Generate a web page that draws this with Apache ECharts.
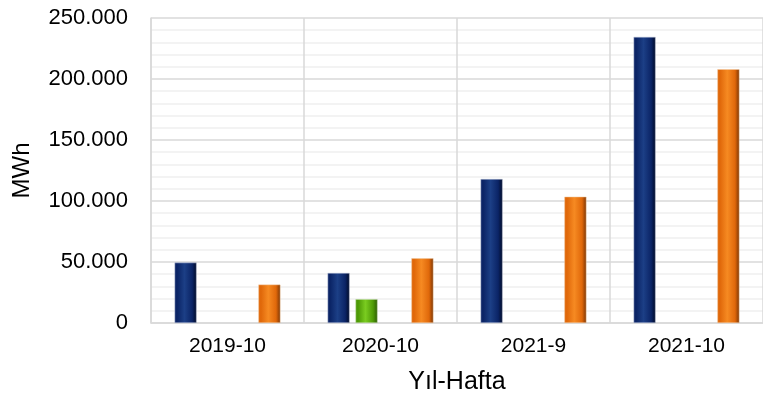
<!DOCTYPE html>
<html>
<head>
<meta charset="utf-8">
<script src="https://cdn.jsdelivr.net/npm/echarts@6/dist/echarts.min.js"></script>
<style>
  html, body { margin: 0; padding: 0; background: #fff; }
  #chart { width: 763px; height: 404px; }
</style>
</head>
<body>
<div id="chart"></div>
<script>
var categories = ["2019-10", "2020-10", "2021-9", "2021-10"];
var seriesA = [49500, 41000, 118000, 234500];
var seriesB = [null, 19500, null, null];
var seriesC = [null, null, null, null];
var seriesD = [31500, 53000, 103500, 208000];

function bevel(dark, main, light) {
  return new echarts.graphic.LinearGradient(0, 0, 1, 0, [
    { offset: 0, color: main },
    { offset: 0.12, color: main },
    { offset: 0.45, color: light },
    { offset: 0.8, color: main },
    { offset: 1, color: dark },
  ]);
}

var chartDom = document.getElementById("chart");
var myChart = echarts.init(chartDom);
var option;

option = {
  animation: false,
  grid: {
    left: 151,
    right: -2,
    top: 18,
    bottom: 81,
  },
  xAxis: {
    type: "category",
    data: categories,
    name: "Yıl-Hafta",
    nameLocation: "middle",
    nameGap: 47,
    nameTextStyle: { fontFamily: "Liberation Sans", fontSize: 25, color: "#000" },
    axisLine: { lineStyle: { color: "#d9d9d9", width: 1.5 } },
    axisTick: { show: false },
    axisLabel: { fontFamily: "Liberation Sans", fontSize: 21, color: "#000", margin: 13 },
    splitLine: { show: true, lineStyle: { color: "#d9d9d9", width: 1.5 } },
  },
  yAxis: {
    type: "value",
    min: 0,
    max: 250000,
    interval: 50000,
    name: "MWh",
    nameLocation: "middle",
    nameGap: 117,
    nameTextStyle: { fontFamily: "Liberation Sans", fontSize: 24, color: "#000" },
    axisLine: { show: true, lineStyle: { color: "#d9d9d9", width: 1.5 } },
    axisTick: { show: false },
    axisLabel: {
      fontFamily: "Liberation Sans",
      fontSize: 22,
      color: "#000",
      margin: 23,
      formatter: function (v) {
        return String(v).replace(/\B(?=(\d{3})+(?!\d))/g, ".");
      },
    },
    splitLine: { lineStyle: { color: "#d9d9d9", width: 1.5 } },
    minorTick: { show: false, splitNumber: 5 },
    minorSplitLine: { show: true, lineStyle: { color: "#f0f0f0", width: 1.5 } },
  },
  series: [
    {
      name: "A",
      type: "bar",
      data: seriesA,
      barWidth: 22,
      barGap: "27%",
      itemStyle: { color: bevel("#000a26", "#0b2466", "#1c3f86"), borderColor: "#b8c0d8", borderWidth: 0.5 },
    },
    {
      name: "B",
      type: "bar",
      data: seriesB,
      barWidth: 22,
      barGap: "27%",
      itemStyle: { color: bevel("#2c5a04", "#4e9a06", "#7acc20"), borderColor: "#c0d8a8", borderWidth: 0.5 },
    },
    {
      name: "C",
      type: "bar",
      data: seriesC,
      barWidth: 22,
      barGap: "27%",
    },
    {
      name: "D",
      type: "bar",
      data: seriesD,
      barWidth: 22,
      barGap: "27%",
      itemStyle: { color: bevel("#7a3505", "#e0680a", "#f68a22"), borderColor: "#f0c8a0", borderWidth: 0.5 },
    },
  ],
};

option && myChart.setOption(option);
</script>
</body>
</html>
